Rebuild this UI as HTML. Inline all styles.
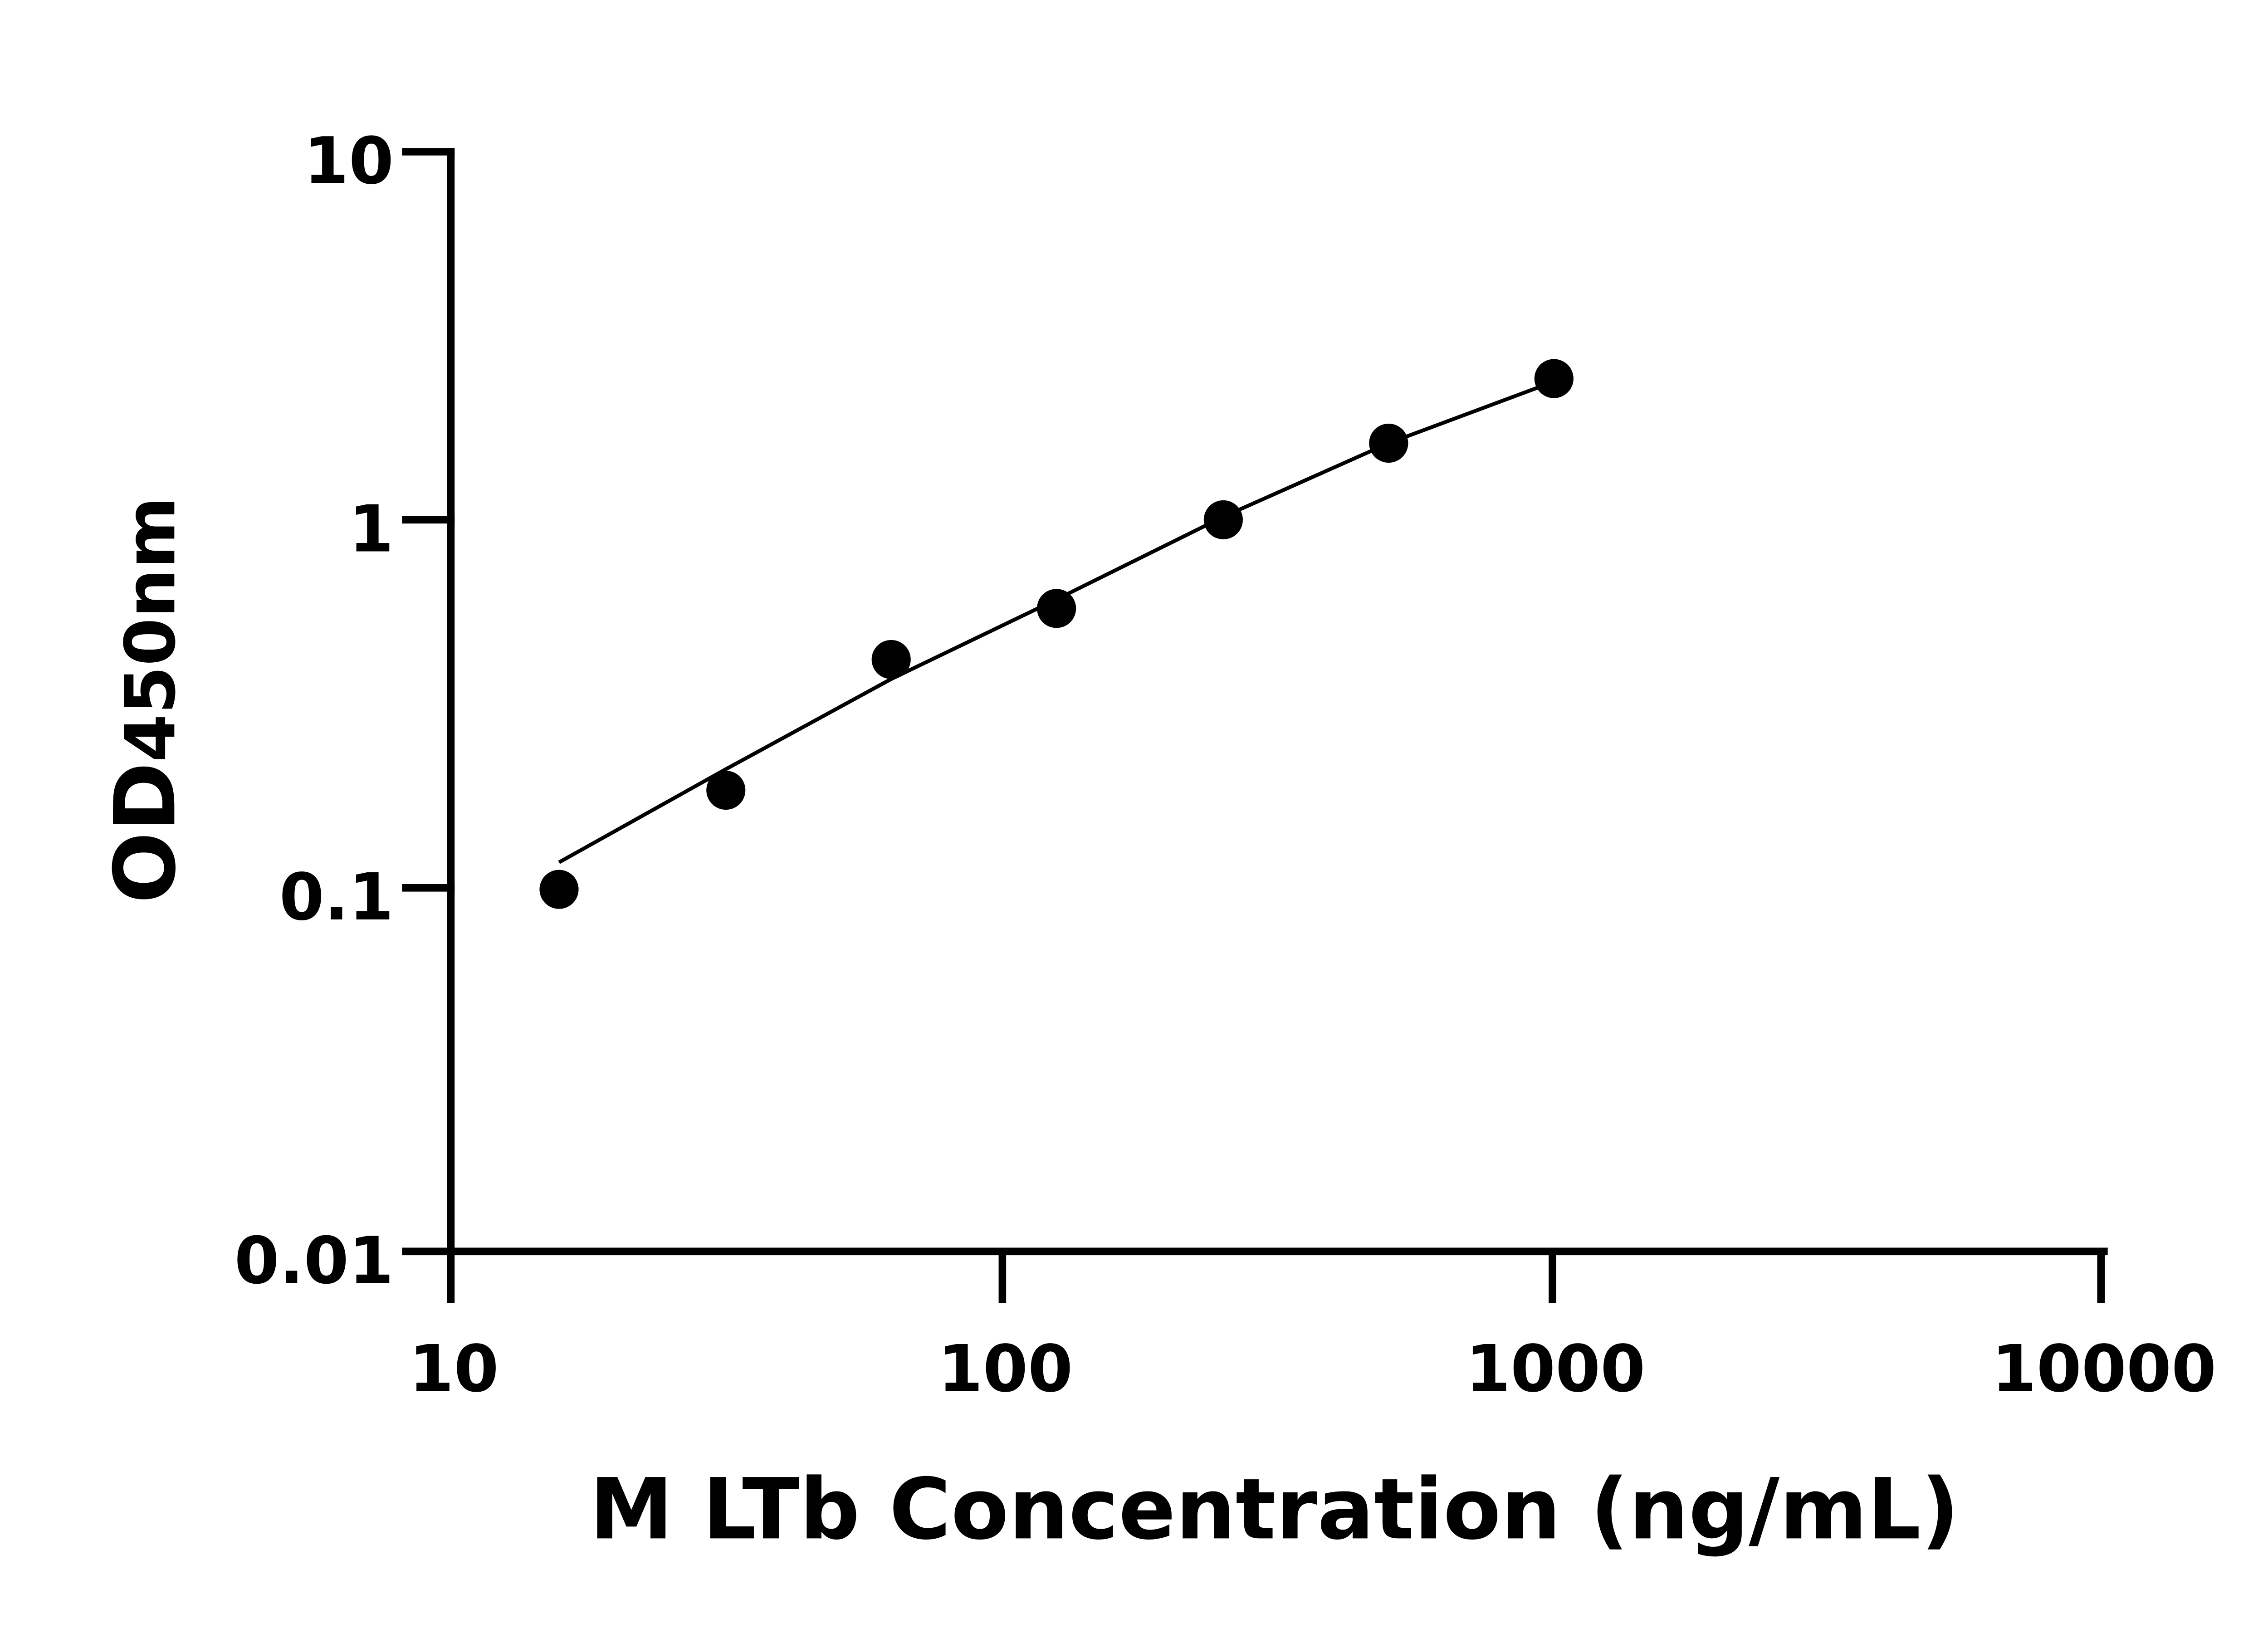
<!DOCTYPE html>
<html><head><meta charset="utf-8"><style>
html,body{margin:0;padding:0;background:#fff;}
svg{display:block;}
text{font-family:"DejaVu Sans","Liberation Sans",sans-serif;font-weight:bold;fill:#000;}
</style></head><body>
<svg width="5142" height="3600" viewBox="0 0 1552 1087" preserveAspectRatio="none" xmlns="http://www.w3.org/2000/svg">
<g stroke="#000" stroke-width="5" fill="none" stroke-linecap="square">
<line x1="300" y1="101" x2="300" y2="833"/>
<line x1="300" y1="833" x2="1400" y2="833"/>
<line x1="270" y1="101" x2="300" y2="101"/>
<line x1="270" y1="346" x2="300" y2="346"/>
<line x1="270" y1="591" x2="300" y2="591"/>
<line x1="270" y1="833" x2="300" y2="833"/>
<line x1="300" y1="833" x2="300" y2="865"/>
<line x1="667" y1="833" x2="667" y2="865"/>
<line x1="1033" y1="833" x2="1033" y2="865"/>
<line x1="1398" y1="833" x2="1398" y2="865"/>
</g>
<polyline fill="none" stroke="#000" stroke-width="2.5" points="372,574 483,512 593,452 703,399 814,344 924,295 1034,254"/>
<g fill="#000">
<circle cx="372" cy="592" r="13"/>
<circle cx="483" cy="526" r="13"/>
<circle cx="593" cy="439" r="13"/>
<circle cx="703" cy="405" r="13"/>
<circle cx="814" cy="346" r="13"/>
<circle cx="924" cy="295" r="13"/>
<circle cx="1034" cy="252" r="13"/>
</g>
<g font-size="43" text-anchor="end">
<text x="262" y="122">10</text>
<text x="262" y="367">1</text>
<text x="262" y="612">0.1</text>
<text x="262" y="854">0.01</text>
</g>
<g font-size="43" text-anchor="middle">
<text x="302" y="926">10</text>
<text x="669" y="926">100</text>
<text x="1035" y="926">1000</text>
<text x="1400" y="926">10000</text>
</g>
<text x="848" y="1024" font-size="56" text-anchor="middle">M LTb Concentration (ng/mL)</text>
<text transform="translate(116,466) rotate(-90)" font-size="56" text-anchor="middle">OD<tspan font-size="46">450nm</tspan></text>
</svg>
</body></html>
